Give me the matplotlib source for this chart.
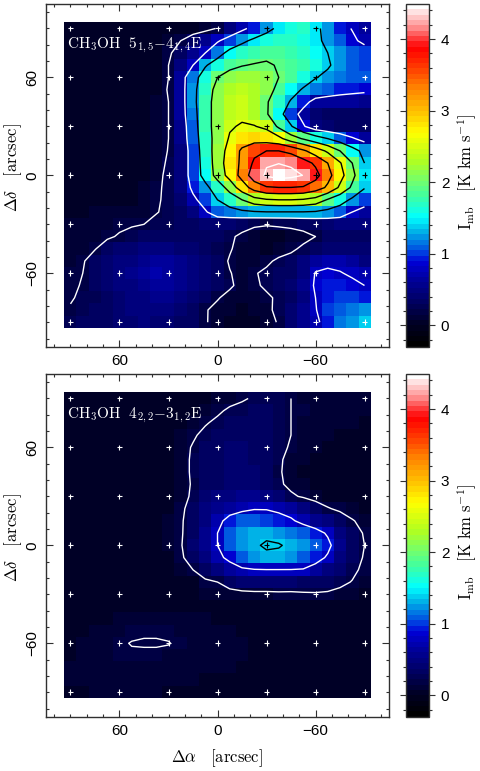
import numpy as np
import matplotlib
matplotlib.use('Agg')
import matplotlib.pyplot as plt
from matplotlib.colors import LinearSegmentedColormap
from matplotlib.ticker import MultipleLocator

# map axes, arcsec offsets of the pixel centres
ra_off = [90, 82.5, 75, 67.5, 60, 52.5, 45, 37.5, 30, 22.5, 15, 7.5, 0, -7.5, -15, -22.5, -30, -37.5, -45, -52.5, -60, -67.5, -75, -82.5, -90]
dec_off = [90, 82.5, 75, 67.5, 60, 52.5, 45, 37.5, 30, 22.5, 15, 7.5, 0, -7.5, -15, -22.5, -30, -37.5, -45, -52.5, -60, -67.5, -75, -82.5, -90]

top_map = [
 [.02,.02,.02,.02,.02,.02,.02,.03,.03,.04,.06,.1,.22,.45,.7,.95,1.2,1.45,1.6,1.65,1.45,1.2,.95,.78,.6],
 [.02,.02,.02,.02,.02,.02,.03,.05,.1,.2,.35,.55,.75,1.0,1.25,1.45,1.6,1.65,1.65,1.6,1.45,1.25,1.05,.88,.7],
 [.02,.02,.02,.02,.02,.02,.03,.05,.15,.35,.55,.8,1.15,1.5,1.65,1.75,1.85,1.85,1.75,1.65,1.5,1.35,1.2,1.05,1.0],
 [.02,.02,.02,.02,.02,.03,.03,.05,.2,.5,.8,1.3,1.6,1.85,1.93,1.98,2.0,1.92,1.85,1.75,1.6,1.4,1.2,1.1,1.0],
 [.02,.02,.02,.02,.02,.03,.03,.06,.2,.6,1.15,1.6,1.95,2.1,2.2,2.2,2.1,1.95,1.8,1.6,1.37,1.25,1.15,1.1,1.05],
 [.02,.02,.02,.02,.02,.03,.04,.07,.22,.6,1.2,1.7,2.1,2.3,2.35,2.3,2.1,1.85,1.55,1.3,1.15,1.05,.95,.9,.88],
 [.02,.02,.02,.02,.03,.03,.04,.08,.2,.6,1.2,1.75,2.15,2.35,2.4,2.3,2.0,1.65,1.3,.95,.65,.6,.6,.6,.55],
 [.02,.02,.02,.02,.03,.03,.04,.08,.2,.6,1.15,1.75,2.15,2.35,2.4,2.3,2.0,1.55,1.0,.65,.4,.35,.3,.3,.3],
 [.02,.02,.02,.03,.03,.03,.05,.09,.2,.55,1.1,1.75,2.15,2.45,2.55,2.52,2.4,1.85,1.4,.85,.5,.4,.35,.35,.35],
 [.02,.02,.02,.03,.03,.04,.05,.1,.2,.55,1.05,1.7,2.15,2.55,2.8,2.85,2.8,2.65,2.2,1.9,1.6,1.35,1.1,.85,.65],
 [.02,.02,.03,.03,.03,.04,.05,.1,.21,.5,1.0,1.65,2.2,2.7,3.2,3.55,3.7,3.7,3.55,3.2,2.8,2.4,1.95,1.55,1.2],
 [.02,.02,.03,.03,.04,.04,.06,.12,.23,.5,1.0,1.6,2.2,2.8,3.2,3.8,4.22,4.24,4.18,3.95,3.6,3.1,2.55,1.95,1.35],
 [.03,.03,.03,.03,.04,.05,.07,.14,.25,.5,1.0,1.55,2.15,2.7,3.3,4.05,4.3,4.45,4.38,4.24,3.9,3.3,2.7,2.1,1.45],
 [.03,.03,.03,.04,.05,.06,.08,.16,.25,.45,.9,1.2,1.65,2.15,2.8,3.35,3.65,3.69,3.69,3.65,3.4,3.0,2.4,1.85,1.38],
 [.04,.04,.05,.05,.06,.07,.1,.17,.25,.4,.7,1.0,1.35,1.65,1.95,2.3,2.45,2.5,2.5,2.45,2.3,1.9,1.6,1.25,1.0],
 [.06,.07,.08,.09,.1,.12,.14,.19,.24,.3,.5,.75,1.05,1.15,1.25,1.3,1.33,1.33,1.33,1.33,1.3,1.2,1.05,.8,.65],
 [.1,.1,.12,.14,.16,.18,.2,.25,.28,.3,.35,.4,.42,.38,.3,.24,.22,.24,.26,.3,.35,.42,.48,.5,.5],
 [.08,.1,.12,.17,.22,.27,.3,.32,.33,.34,.35,.33,.3,.24,.15,.08,.05,.05,.08,.12,.2,.3,.33,.35,.35],
 [.08,.12,.19,.3,.38,.42,.45,.45,.45,.42,.4,.35,.28,.22,.12,.08,.05,.08,.15,.25,.32,.38,.4,.4,.4],
 [.1,.18,.3,.38,.48,.52,.58,.6,.6,.55,.45,.38,.3,.18,.1,.08,.15,.25,.3,.5,.65,.7,.7,.6,.5],
 [.15,.2,.32,.4,.5,.55,.62,.68,.65,.55,.45,.38,.3,.21,.14,.18,.25,.3,.35,.5,.82,.87,.82,.75,.7],
 [.15,.22,.3,.38,.48,.52,.58,.65,.62,.55,.45,.38,.3,.24,.12,.15,.25,.3,.38,.55,.85,.95,.95,.88,.8],
 [.18,.24,.28,.35,.42,.48,.52,.55,.55,.5,.42,.35,.22,.12,.08,.1,.15,.25,.35,.5,.8,.95,1.0,.98,.95],
 [.22,.28,.32,.35,.42,.45,.48,.5,.48,.42,.35,.22,.13,.08,.05,.08,.13,.28,.4,.55,.78,1.0,1.1,1.15,1.25],
 [.25,.3,.32,.35,.4,.42,.45,.42,.4,.35,.3,.22,.12,.05,.03,.05,.12,.22,.4,.55,.72,.95,1.15,1.2,1.35],
]

bottom_map = [
 [.02,.02,.02,.02,.02,.02,.02,.02,.02,.02,.03,.05,.08,.12,.17,.23,.27,.27,.2,.14,.12,.1,.1,.08,.08],
 [.02,.02,.02,.02,.02,.02,.02,.02,.03,.03,.05,.1,.16,.24,.28,.3,.3,.28,.2,.15,.12,.1,.1,.08,.08],
 [.02,.02,.02,.02,.02,.02,.02,.03,.03,.05,.1,.18,.25,.3,.32,.33,.32,.28,.2,.14,.1,.1,.08,.08,.07],
 [.02,.02,.02,.02,.02,.02,.03,.03,.04,.08,.17,.26,.32,.35,.36,.36,.34,.28,.2,.13,.1,.08,.07,.06,.06],
 [.01,.01,.02,.02,.02,.02,.03,.03,.05,.12,.22,.3,.35,.38,.38,.36,.32,.25,.18,.12,.08,.05,.05,.05,.05],
 [.01,.01,.02,.02,.02,.03,.03,.04,.06,.13,.23,.3,.35,.38,.38,.36,.32,.23,.14,.08,.05,.03,.02,.03,.04],
 [.01,.01,.02,.02,.03,.03,.03,.04,.06,.13,.23,.3,.36,.4,.4,.38,.32,.22,.14,.07,.04,.02,.02,.03,.04],
 [.01,.02,.02,.02,.03,.03,.03,.04,.06,.13,.22,.3,.36,.4,.42,.42,.36,.24,.14,.08,.04,.03,.03,.03,.04],
 [.02,.02,.02,.02,.03,.03,.03,.04,.07,.14,.23,.38,.45,.52,.55,.55,.5,.4,.24,.17,.1,.06,.05,.05,.05],
 [.02,.02,.02,.03,.03,.03,.04,.05,.07,.15,.3,.45,.55,.62,.72,.78,.78,.72,.65,.5,.35,.22,.15,.08,.05],
 [.02,.02,.02,.03,.03,.03,.04,.05,.08,.17,.32,.5,.68,.95,1.05,1.05,1.0,.95,.85,.7,.55,.45,.35,.22,.12],
 [.02,.02,.02,.03,.03,.03,.04,.05,.08,.17,.35,.55,.8,1.05,1.2,1.28,1.3,1.25,1.15,1.05,.95,.75,.45,.3,.18],
 [.02,.02,.02,.03,.03,.03,.04,.05,.08,.18,.38,.58,.8,1.1,1.25,1.32,1.38,1.37,1.3,1.2,1.05,.9,.55,.35,.2],
 [.02,.02,.03,.03,.03,.03,.04,.05,.07,.16,.32,.5,.72,.88,1.1,1.25,1.3,1.28,1.2,1.05,.95,.75,.45,.3,.18],
 [.03,.03,.03,.03,.03,.04,.04,.05,.06,.08,.2,.35,.5,.65,.74,.78,.79,.79,.79,.78,.65,.5,.4,.25,.15],
 [.03,.03,.03,.03,.03,.04,.04,.04,.04,.05,.05,.15,.2,.3,.38,.4,.4,.4,.38,.35,.32,.3,.25,.19,.1],
 [.04,.04,.04,.04,.04,.04,.05,.05,.05,.05,.06,.08,.1,.12,.13,.14,.14,.15,.15,.17,.18,.17,.14,.1,.07],
 [.05,.05,.05,.05,.05,.06,.06,.06,.05,.05,.05,.05,.05,.04,.03,.03,.03,.04,.05,.05,.05,.05,.05,.04,.04],
 [.05,.05,.06,.07,.1,.11,.12,.12,.11,.1,.08,.08,.07,.05,.04,.04,.04,.05,.05,.05,.05,.05,.04,.04,.04],
 [.06,.07,.09,.11,.13,.15,.17,.17,.15,.13,.1,.1,.09,.08,.06,.05,.05,.06,.06,.06,.05,.05,.04,.04,.04],
 [.07,.09,.11,.13,.17,.21,.22,.22,.21,.15,.12,.11,.1,.09,.08,.07,.07,.07,.06,.06,.05,.05,.04,.04,.04],
 [.07,.09,.11,.13,.15,.17,.16,.16,.14,.13,.11,.1,.1,.09,.08,.07,.07,.06,.06,.05,.05,.04,.04,.04,.04],
 [.08,.09,.1,.12,.13,.14,.14,.14,.13,.12,.1,.09,.08,.08,.07,.06,.06,.05,.05,.04,.04,.04,.04,.04,.04],
 [.08,.08,.09,.1,.1,.11,.11,.1,.1,.09,.08,.07,.06,.06,.05,.05,.05,.05,.04,.04,.04,.04,.04,.04,.04],
 [.07,.07,.08,.08,.08,.08,.08,.08,.07,.07,.06,.05,.04,.04,.04,.04,.04,.04,.04,.04,.04,.04,.04,.04,.04],
]

# contour levels and their colours
levels = [0.2, 0.8, 1.35, 1.95, 2.5, 3.1, 3.7, 4.25]
level_colors = ['white', 'white', 'black', 'black', 'black', 'black', 'black', 'white']

# 30 arcsec pointing grid
grid_off = [90, 60, 30, 0, -30, -60, -90]
top_black = [(-30, 90), (-60, 90), (0, 60), (-30, 60), (-60, 60), (0, 30), (-30, 30), (0, 0), (-30, 0), (-60, 0), (-90, 0)]
bottom_black = [(-30, 0)]

top_title = r'$\mathrm{CH_3OH\ \ 5_{1,5}{-}4_{1,4}E}$'
bottom_title = r'$\mathrm{CH_3OH\ \ 4_{2,2}{-}3_{1,2}E}$'

# colour bar anchors: value, colour
cbar_vals = [-0.3, 0.0, 0.3, 0.6, 0.87, 1.0, 1.3, 1.5, 1.8, 2.0, 2.3, 2.7, 3.0, 3.35, 3.6, 3.9, 4.0, 4.2, 4.49]
cbar_cols = ['#000000', '#000026', '#000060', '#000098', '#0000d8', '#0040e0', '#00b4e8', '#00ffff', '#40ffa0',
             '#70ff70', '#b0ff20', '#ffff00', '#ffc000', '#ff8000', '#ff4000', '#ff0000', '#ff2828', '#ff9090', '#ffffff']

vmin, vmax = -0.3, 4.49
pos = [(v - vmin) / (vmax - vmin) for v in cbar_vals]
cmap = LinearSegmentedColormap.from_list('map_cols', list(zip(pos, cbar_cols)), N=64)

plt.rcParams['font.family'] = 'Liberation Sans'
plt.rcParams['mathtext.fontset'] = 'cm'
frame_col = '#303030'

W, H = 480.0, 771.0
fig = plt.figure(figsize=(4.8, 7.71), dpi=100)


def px_axes(x0, y0, x1, y1):
    return fig.add_axes([x0 / W, 1 - y1 / H, (x1 - x0) / W, (y1 - y0) / H])


def draw_panel(data, black_marks, title, y0, y1):
    ax = px_axes(46, y0, 389, y1)
    z = np.array(data)
    im = ax.imshow(z, cmap=cmap, vmin=vmin, vmax=vmax, interpolation='nearest', origin='upper',
                   extent=(93.75, -93.75, -93.75, 93.75), aspect='auto')
    ax.contour(ra_off, dec_off, z, levels=levels, colors=level_colors, linewidths=1.0)

    xs = [x for y in grid_off for x in grid_off]
    ys = [y for y in grid_off for x in grid_off]
    cols = ['black' if (x, y) in black_marks else 'white' for x, y in zip(xs, ys)]
    ax.scatter(xs, ys, marker='+', s=17, c=cols, linewidths=0.8, zorder=5)

    ax.set_xlim(105, -105)
    ax.set_ylim(-105, 105)
    ax.set_xticks([60, 0, -60])
    ax.set_yticks([60, 0, -60])
    ax.set_xticklabels(['60', '0', '\u221260'], fontsize=11)
    ax.set_yticklabels(['60', '0', '\u221260'], fontsize=11, rotation=90, va='center')
    ax.xaxis.set_minor_locator(MultipleLocator(10))
    ax.yaxis.set_minor_locator(MultipleLocator(10))
    ax.tick_params(which='major', direction='in', length=4.8, width=0.8, top=True, right=True, color=frame_col, pad=5)
    ax.tick_params(which='minor', direction='in', length=2.4, width=0.8, top=True, right=True, color=frame_col)
    for s in ax.spines.values():
        s.set_linewidth(1.0)
        s.set_color(frame_col)

    fig.text(67 / W, 1 - (y0 + 41) / H, title, color='white', fontsize=11, ha='left', va='center', zorder=10)
    fig.text(13 / W, 1 - (y0 + 164) / H, r'$\Delta\delta\ \ \ \mathrm{[arcsec]}$', rotation=90, fontsize=12,
             ha='center', va='center')

    cax = px_axes(406, y0, 429.3, y1)
    cb = fig.colorbar(im, cax=cax)
    cb.set_ticks([0, 1, 2, 3, 4])
    cb.ax.yaxis.set_minor_locator(MultipleLocator(0.2))
    cb.ax.tick_params(which='major', direction='out', length=4.3, width=0.8, left=True, right=True, color=frame_col, labelsize=11, pad=4)
    cb.ax.tick_params(which='minor', direction='out', length=2.5, width=0.8, left=True, right=True, color=frame_col)
    cb.outline.set_linewidth(1.0)
    cb.outline.set_edgecolor(frame_col)
    fig.text(467 / W, 1 - (y0 + 168) / H, r'$\mathrm{I_{mb}\ \ \ [K\ km\ s^{-1}]}$', rotation=90, fontsize=12,
             ha='center', va='center')
    return ax


draw_panel(top_map, top_black, top_title, 4, 346.7)
draw_panel(bottom_map, bottom_black, bottom_title, 374, 716.7)

fig.text(217 / W, 1 - 758 / H, r'$\Delta\alpha\ \ \ \mathrm{[arcsec]}$', fontsize=12, ha='center', va='center')

fig.savefig('out.png', dpi=100)
